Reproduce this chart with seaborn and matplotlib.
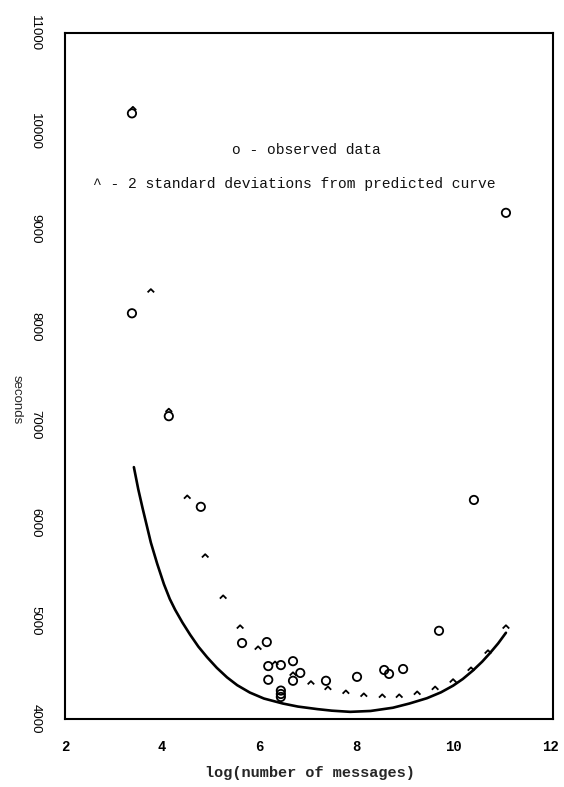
import matplotlib

matplotlib.use("Agg")

import matplotlib.pyplot as plt
import seaborn as sns

# observed data (circles)
obs_x = [3.38, 3.38, 4.14, 4.80, 5.65, 6.16, 6.19, 6.45, 6.19, 6.70, 6.85, 6.70,
         6.45, 6.45, 6.45, 7.38, 8.02, 8.58, 8.68, 8.97, 9.71, 10.43, 11.09]
obs_y = [10180, 8140, 7090, 6165, 4775, 4785, 4540, 4550, 4400, 4590, 4470, 4390,
         4290, 4255, 4225, 4390, 4430, 4500, 4460, 4510, 4900, 6235, 9165]

# 2 standard deviations above the predicted curve (carets)
dev_x = [3.40, 3.77, 4.14, 4.52, 4.89, 5.26, 5.61, 5.98, 6.33, 6.70, 7.07, 7.42,
         7.79, 8.16, 8.54, 8.89, 9.26, 9.63, 10.00, 10.37, 10.72, 11.09]
dev_y = [10230, 8370, 7150, 6265, 5665, 5245, 4940, 4725, 4570, 4460, 4370, 4315,
         4275, 4245, 4235, 4235, 4265, 4315, 4390, 4510, 4685, 4940]

# predicted curve
curve_x = [3.42, 3.51, 3.60, 3.69, 3.77, 3.90, 4.04, 4.16, 4.27, 4.42, 4.58, 4.75,
           4.93, 5.13, 5.34, 5.55, 5.81, 6.10, 6.49, 6.80, 7.20, 7.50, 7.88, 8.30,
           8.76, 9.10, 9.46, 9.75, 10.00, 10.20, 10.41, 10.60, 10.76, 10.93, 11.09]
curve_y = [6570, 6345, 6150, 5965, 5800, 5585, 5375, 5225, 5115, 4985, 4860, 4738,
           4630, 4522, 4425, 4345, 4270, 4209, 4158, 4127, 4101, 4085, 4073, 4082,
           4115, 4158, 4212, 4272, 4340, 4408, 4495, 4585, 4672, 4772, 4880]

x_ticks = [2, 4, 6, 8, 10, 12]
y_ticks = [4000, 5000, 6000, 7000, 8000, 9000, 10000, 11000]

sns.set_style("white")
plt.rcParams["font.family"] = ["Liberation Sans", "DejaVu Sans"]

fig = plt.figure(figsize=(5.64, 7.87), dpi=100)
ax = fig.add_axes([65 / 564, 1 - 719 / 787, 488 / 564, 686 / 787])

sns.lineplot(x=curve_x, y=curve_y, color="black", linewidth=1.9, sort=False, ax=ax)
sns.scatterplot(x=obs_x, y=obs_y, marker="o", s=36, facecolors="none",
                edgecolors="black", linewidth=1.3, ax=ax, zorder=3)
caret = [(-1.0, -0.5), (0.0, 0.5), (1.0, -0.5)]
sns.scatterplot(x=dev_x, y=dev_y, marker=caret, s=22, facecolors="none",
                edgecolors="black", linewidth=1.3, ax=ax, zorder=3)

ax.set_xlim(2, 12.06)
ax.set_ylim(4000, 11000)

mono = ["Liberation Mono", "DejaVu Sans Mono"]
ax.set_xticks(x_ticks)
ax.set_xticklabels([str(t) for t in x_ticks], family=mono, fontweight="bold", fontsize=10)
ax.set_yticks(y_ticks)
ax.set_yticklabels([str(t) for t in y_ticks], fontsize=9.5, rotation=270, va="center")

ax.tick_params(axis="x", direction="in", length=7, width=1.2, pad=15, colors="black")
ax.tick_params(axis="y", direction="in", length=9, width=1.5, pad=17, colors="black")
for t in (ax.xaxis.get_major_ticks()[0], ax.xaxis.get_major_ticks()[-1],
          ax.yaxis.get_major_ticks()[0], ax.yaxis.get_major_ticks()[-1]):
    t.tick1line.set_visible(False)

for spine in ax.spines.values():
    spine.set_visible(True)
    spine.set_color("black")
    spine.set_linewidth(1.5)

ax.set_xlabel("log(number of messages)", family=mono, fontweight="bold", fontsize=11)
ax.xaxis.set_label_coords(0.502, -0.068)
ax.set_ylabel("seconds", fontsize=9.5, rotation=270, va="center")
ax.yaxis.set_label_coords(-0.100, 0.465)

ax.text(5.44, 9806, "o - observed data", family=mono, fontsize=10.5,
        ha="left", va="center", color="#111111")
ax.text(2.58, 9459, "^ - 2 standard deviations from predicted curve", family=mono,
        fontsize=10.5, ha="left", va="center", color="#111111")

fig.savefig("out.png", dpi=100)
